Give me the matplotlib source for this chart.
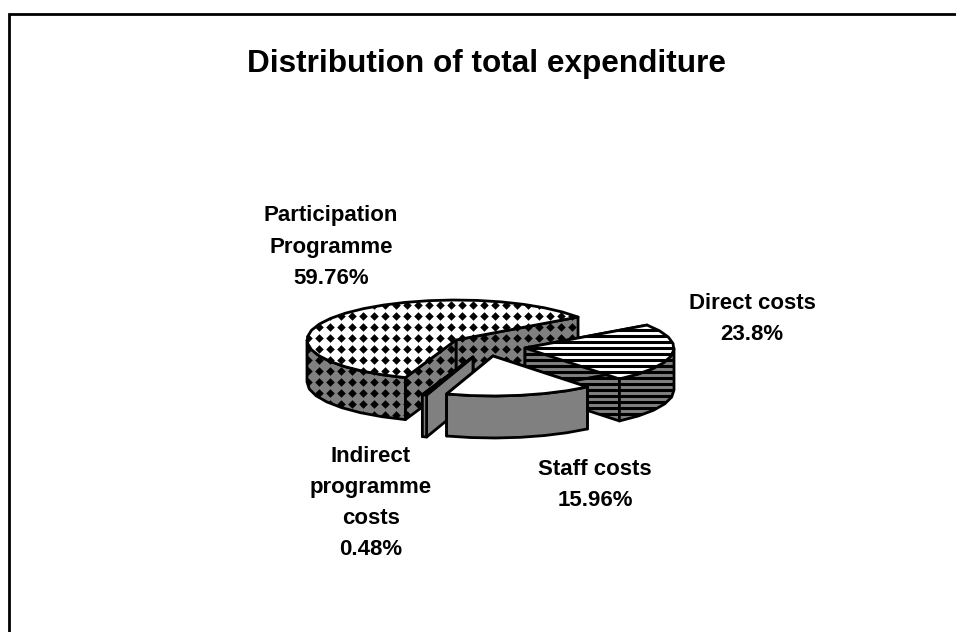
import numpy as np
import matplotlib
matplotlib.use("Agg")
import matplotlib.pyplot as plt
from matplotlib.patches import Polygon

plt.rcParams['font.family'] = ['Liberation Sans', 'DejaVu Sans']

# valeurs, dans l'ordre du tracé (sens antihoraire)
categories = ["Participation\nProgramme", "Indirect\nprogramme\ncosts", "Staff costs", "Direct costs"]
shares = [59.76, 0.48, 15.96, 23.8]
share_labels = ["59.76%", "0.48%", "15.96%", "23.8%"]
title = "Distribution of total expenditure"

# géométrie en pixels de l'image
W, H = 956, 632
cx, cy = 456, 340
rx, ry = 149, 40
depth = 42
start_angle = 35
offsets = [(0, 0), (17, 17), (37, 16), (69, 8)]
label_pos = [(331, 247), (371, 503), (595, 485), (752, 319)]
draw_order = [0, 3, 1, 2]


def rim(x0, y0, a1, a2, step=9):
    n = max(int((a2 - a1) / step), 1) + 1
    t = np.radians(np.linspace(a1, a2, n))
    return np.column_stack([x0 + rx * np.cos(t), y0 - ry * np.sin(t)])


def diamonds(ax, patch):
    # motif en grille carrée, pas de 11 px
    xs, ys = np.meshgrid(np.arange(0, W, 11), np.arange(8, H, 11))
    art = ax.scatter(xs.ravel(), ys.ravel(), marker='D', s=19, color='black', linewidths=0,
                     zorder=patch.get_zorder())
    art.set_clip_path(patch)


def stripes(ax, patch, period=6):
    for y in np.arange(0, H, period):
        line, = ax.plot([0, W], [y, y], color='black', lw=2.2, solid_capstyle='butt', zorder=patch.get_zorder())
        line.set_clip_path(patch)


def face(ax, pts, color, fill, z):
    p = Polygon(pts, closed=True, facecolor=color, edgecolor='none', zorder=z)
    ax.add_patch(p)
    if fill == 'diamond':
        diamonds(ax, p)
    elif fill == 'stripe':
        stripes(ax, p)
    ax.add_patch(Polygon(pts, closed=True, fill=False, edgecolor='black', lw=2.0, joinstyle='round', zorder=z + 0.5))


fig = plt.figure(figsize=(W / 100, H / 100), dpi=100)
ax = fig.add_axes([0, 0, 1, 1])
ax.set_xlim(0, W)
ax.set_ylim(H, 0)
ax.axis('off')

# cadre : gauche et haut seulement
ax.plot([9, 9, W], [H, 14, 14], color='black', lw=2, solid_joinstyle='miter')

ax.text(487, 64, title, ha='center', va='center', fontsize=22.7, fontweight='bold')

fractions = np.array(shares) / sum(shares) * 360
bounds = start_angle + np.concatenate([[0], np.cumsum(fractions)])
fills = ['diamond', None, None, 'stripe']
grey = '#808080'

z = 2
for i in draw_order:
    a1, a2 = bounds[i], bounds[i + 1]
    x0, y0 = cx + offsets[i][0], cy + offsets[i][1]
    fill = fills[i]

    # faces de coupe (bord de départ puis bord d'arrivée)
    for a in (a1, a2):
        tip = rim(x0, y0, a, a, 1)[0]
        pts = [(x0, y0), tip, (tip[0], tip[1] + depth), (x0, y0 + depth)]
        face(ax, pts, grey, fill, z)
        z += 1

    # paroi extérieure : partie avant de l'ellipse
    lo, hi = max(a1, 180), min(a2, 360)
    if lo < hi:
        top = rim(x0, y0, lo, hi)
        face(ax, np.vstack([top, (top + [0, depth])[::-1]]), grey, fill, z)
        z += 1

    # dessus
    top_face = np.vstack([[x0, y0], rim(x0, y0, a1, a2)])
    face(ax, top_face, 'white', fill, z)
    z += 1

for cat, lab, (lx, ly) in zip(categories, share_labels, label_pos):
    ax.text(lx, ly, cat + "\n" + lab, ha='center', va='center', fontsize=16, fontweight='bold',
            linespacing=1.64, zorder=z)

fig.savefig("out.png", dpi=100)
